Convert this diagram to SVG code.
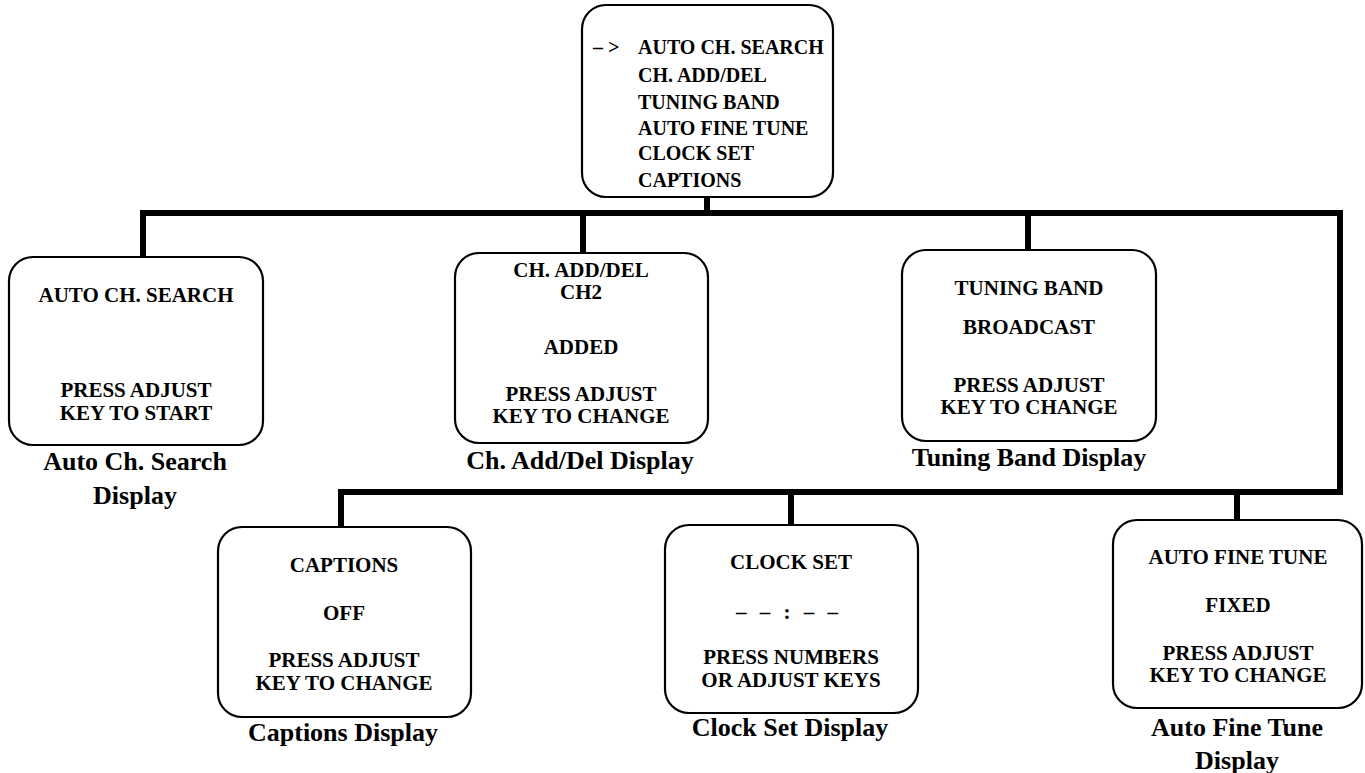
<svg xmlns="http://www.w3.org/2000/svg" width="1365" height="773" viewBox="0 0 1365 773">
<style>
.box{fill:#fff;stroke:#000;stroke-width:2.2}
.t{font-family:"Liberation Serif","Times New Roman",serif;font-weight:bold;font-size:21px;fill:#000;text-anchor:middle}
.m{font-family:"Liberation Serif","Times New Roman",serif;font-weight:bold;font-size:20px;fill:#000}
.lbl{font-family:"Liberation Serif","Times New Roman",serif;font-weight:bold;font-size:26px;fill:#000;text-anchor:middle}
.c{fill:none;stroke:#000;stroke-width:6;stroke-linecap:square;stroke-linejoin:miter}
</style>
<rect width="1365" height="773" fill="#fff"/>
<g id="connectors">
<path class="c" d="M707 198 V213 M143 255 V213 H1340 V492 H341 V525 M583 213 V251 M1028 213 V248 M791 492 V523 M1237 492 V518"/>
</g>
<g id="menu">
<rect class="box" x="582" y="5" width="251" height="192" rx="24"/>
<text class="m" x="593" y="54">– &gt;</text>
<text class="m" x="638" y="54">AUTO CH. SEARCH</text>
<text class="m" x="638" y="82">CH. ADD/DEL</text>
<text class="m" x="638" y="109">TUNING BAND</text>
<text class="m" x="638" y="135">AUTO FINE TUNE</text>
<text class="m" x="638" y="160">CLOCK SET</text>
<text class="m" x="638" y="187">CAPTIONS</text>
</g>
<g id="auto-ch-search">
<rect class="box" x="9" y="257" width="254" height="188" rx="24"/>
<text class="t" x="136" y="302">AUTO CH. SEARCH</text>
<text class="t" x="136" y="397">PRESS ADJUST</text>
<text class="t" x="136" y="420">KEY TO START</text>
<text class="lbl" x="135" y="470">Auto Ch. Search</text>
<text class="lbl" x="135" y="504">Display</text>
</g>
<g id="ch-add-del">
<rect class="box" x="455" y="253" width="253" height="190" rx="24"/>
<text class="t" x="581" y="277">CH. ADD/DEL</text>
<text class="t" x="581" y="299">CH2</text>
<text class="t" x="581" y="354">ADDED</text>
<text class="t" x="581" y="401">PRESS ADJUST</text>
<text class="t" x="581" y="423">KEY TO CHANGE</text>
<text class="lbl" x="580" y="469">Ch. Add/Del Display</text>
</g>
<g id="tuning-band">
<rect class="box" x="902" y="250" width="254" height="191" rx="24"/>
<text class="t" x="1029" y="295">TUNING BAND</text>
<text class="t" x="1029" y="334">BROADCAST</text>
<text class="t" x="1029" y="392">PRESS ADJUST</text>
<text class="t" x="1029" y="414">KEY TO CHANGE</text>
<text class="lbl" x="1029" y="466">Tuning Band Display</text>
</g>
<g id="captions">
<rect class="box" x="218" y="527" width="253" height="190" rx="24"/>
<text class="t" x="344" y="572">CAPTIONS</text>
<text class="t" x="344" y="620">OFF</text>
<text class="t" x="344" y="667">PRESS ADJUST</text>
<text class="t" x="344" y="690">KEY TO CHANGE</text>
<text class="lbl" x="343" y="741">Captions Display</text>
</g>
<g id="clock-set">
<rect class="box" x="665" y="525" width="253" height="188" rx="24"/>
<text class="t" x="791" y="569">CLOCK SET</text>
<text class="t" x="789" y="619" style="letter-spacing:4px">– – : – –</text>
<text class="t" x="791" y="664">PRESS NUMBERS</text>
<text class="t" x="791" y="687">OR ADJUST KEYS</text>
<text class="lbl" x="790" y="736">Clock Set Display</text>
</g>
<g id="auto-fine-tune">
<rect class="box" x="1113" y="520" width="249" height="188" rx="24"/>
<text class="t" x="1238" y="564">AUTO FINE TUNE</text>
<text class="t" x="1238" y="612">FIXED</text>
<text class="t" x="1238" y="660">PRESS ADJUST</text>
<text class="t" x="1238" y="682">KEY TO CHANGE</text>
<text class="lbl" x="1237" y="736">Auto Fine Tune</text>
<text class="lbl" x="1237" y="769">Display</text>
</g>
</svg>
